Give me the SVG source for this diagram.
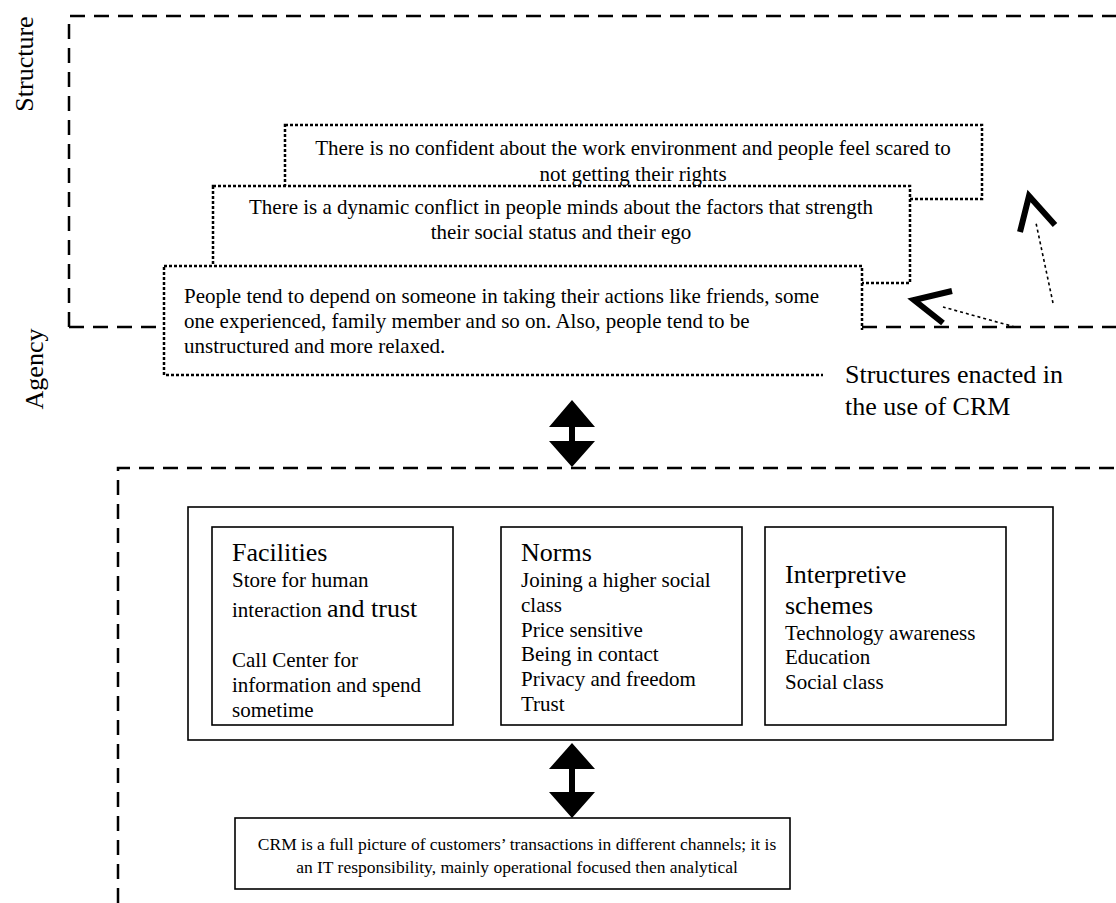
<svg xmlns="http://www.w3.org/2000/svg" width="1116" height="903" viewBox="0 0 1116 903">
<style>
.dash{fill:none;stroke:#000;stroke-width:2.5;stroke-dasharray:15 9}
.dot{fill:#fff;stroke:#000;stroke-width:2.5;stroke-dasharray:3 2}
.dotl{fill:none;stroke:#000;stroke-width:1.6;stroke-dasharray:3 3}
.solid{fill:#fff;stroke:#000;stroke-width:1.6}
.chev{fill:none;stroke:#000;stroke-width:6;stroke-linejoin:miter;stroke-miterlimit:10}
.t{font-family:"Liberation Serif","Times New Roman",serif;font-size:21px;fill:#000}
.h{font-size:26px}
.s{font-size:17.5px}
</style>
<rect width="1116" height="903" fill="#fff"/>

<g id="frame-structure">
  <path class="dash" d="M69,327 L69,16 L1116,16"/>
  <path class="dash" d="M69,327 L157,327"/>
  <path class="dash" d="M862,327 L1116,327"/>
  <text class="t h" transform="translate(33,64) rotate(-90)" text-anchor="middle">Structure</text>
</g>
<g id="frame-agency">
  <path class="dash" d="M118,903 L118,468 L1116,468"/>
  <text class="t h" transform="translate(43,369) rotate(-90)" text-anchor="middle">Agency</text>
</g>

<g id="box-confidence">
  <rect class="dot" x="285" y="125" width="697" height="74"/>
  <text class="t" x="633" y="155" text-anchor="middle">There is no confident about the work environment and people feel scared to</text>
  <text class="t" x="633" y="181" text-anchor="middle">not getting their rights</text>
</g>
<g id="box-conflict">
  <rect class="dot" x="213" y="186" width="697" height="97"/>
  <text class="t" x="561" y="214" text-anchor="middle">There is a dynamic conflict in people minds about the factors that strength</text>
  <text class="t" x="561" y="239" text-anchor="middle">their social status and their ego</text>
</g>
<g id="box-depend">
  <rect class="dot" x="164" y="266" width="698" height="109"/>
  <text class="t" x="184" y="303">People tend to depend on someone in taking their actions like friends, some</text>
  <text class="t" x="184" y="328">one experienced, family member and so on. Also, people tend to be</text>
  <text class="t" x="184" y="353">unstructured and more relaxed.</text>
</g>
<g id="label-structures">
  <rect x="823" y="330" width="293" height="105" fill="#fff"/>
  <text class="t h" x="845" y="383">Structures enacted in</text>
  <text class="t h" x="845" y="415">the use of CRM</text>
</g>

<g id="modalities">
  <rect class="solid" x="188" y="507" width="865" height="233"/>
</g>
<g id="box-facilities">
  <rect class="solid" x="212" y="527" width="241" height="198"/>
  <text class="t h" x="232" y="561">Facilities</text>
  <text class="t" x="232" y="587">Store for human</text>
  <text class="t" x="232" y="617">interaction <tspan class="h">and trust</tspan></text>
  <text class="t" x="232" y="667">Call Center for</text>
  <text class="t" x="232" y="692">information and spend</text>
  <text class="t" x="232" y="717">sometime</text>
</g>
<g id="box-norms">
  <rect class="solid" x="501" y="527" width="241" height="198"/>
  <text class="t h" x="521" y="561">Norms</text>
  <text class="t" x="521" y="587">Joining a higher social</text>
  <text class="t" x="521" y="612">class</text>
  <text class="t" x="521" y="637">Price sensitive</text>
  <text class="t" x="521" y="661">Being in contact</text>
  <text class="t" x="521" y="686">Privacy and freedom</text>
  <text class="t" x="521" y="711">Trust</text>
</g>
<g id="box-interpretive">
  <rect class="solid" x="765" y="527" width="241" height="198"/>
  <text class="t h" x="785" y="583">Interpretive</text>
  <text class="t h" x="785" y="614">schemes</text>
  <text class="t" x="785" y="640">Technology awareness</text>
  <text class="t" x="785" y="664">Education</text>
  <text class="t" x="785" y="689">Social class</text>
</g>
<g id="box-crm">
  <rect class="solid" x="235" y="818" width="555" height="71"/>
  <text class="t s" x="517" y="850" text-anchor="middle">CRM is a full picture of customers’ transactions in different channels; it is</text>
  <text class="t s" x="517" y="873" text-anchor="middle">an IT responsibility, mainly operational focused then analytical</text>
</g>

<g id="connectors">
  <path d="M572,400 L595,427 L575,427 L575,441 L595,441 L572,467 L549,441 L569,441 L569,427 L549,427 Z" fill="#000"/>
  <path d="M572,743 L595,769 L575,769 L575,792 L595,792 L572,818 L549,792 L569,792 L569,769 L549,769 Z" fill="#000"/>
  <path class="dotl" d="M1053,303 L1036,223"/>
  <polyline class="chev" points="1020,232 1029,196 1055,225"/>
  <path class="dotl" d="M1015,327 L943,307"/>
  <polyline class="chev" points="952,291 914,300 943,323"/>
</g>
</svg>
